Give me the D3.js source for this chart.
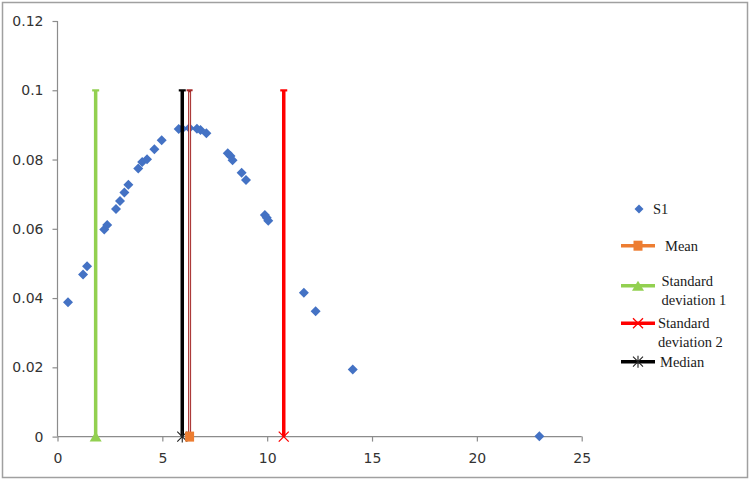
<!DOCTYPE html>
<html>
<head>
<meta charset="utf-8">
<script src="https://cdn.jsdelivr.net/npm/d3@7"></script>
<style>
  body { margin: 0; background: #fff; }
</style>
</head>
<body>
<div id="chart"></div>
<script>
// S1 points (x, density)
const s1X = [0.50, 1.22, 1.41, 2.23, 2.37, 2.79, 2.98, 3.19, 3.38, 3.85, 4.04, 4.27, 4.62, 4.97,
  5.78, 5.95, 6.29, 6.65, 6.82, 7.10, 8.12, 8.25, 8.35, 8.78, 8.99, 9.89, 9.98, 10.05,
  11.75, 12.31, 14.08, 22.98]
const s1Y = [0.0388, 0.0468, 0.0492, 0.0598, 0.0611, 0.0657, 0.0680, 0.0705, 0.0727, 0.0774, 0.0793, 0.0801, 0.0830, 0.0856,
  0.0888, 0.0889, 0.0891, 0.0889, 0.0885, 0.0876, 0.0818, 0.0810, 0.0798, 0.0762, 0.0741, 0.0640, 0.0632, 0.0623,
  0.0415, 0.0362, 0.0194, 0.0001]

// vertical reference lines, each from 0 to lineTop
const lineNames = ['Mean', 'Standard deviation 1', 'Standard deviation 2', 'Median']
const lineX = [6.30, 1.82, 10.79, 5.95]
const lineTop = 0.1

const xTicks = [0, 5, 10, 15, 20, 25]
const yTicks = [0, 0.02, 0.04, 0.06, 0.08, 0.1, 0.12]

const W = 750
const H = 481

const svg = d3.select('#chart')
  .append('svg')
  .attr('width', W)
  .attr('height', H)

// outer chart border
svg.append('rect')
  .attr('x', 2.5)
  .attr('y', 2.5)
  .attr('width', 745)
  .attr('height', 475)
  .attr('fill', 'white')
  .attr('stroke', '#a0a0a0')
  .attr('stroke-width', 1.5)

const x = d3.scaleLinear().domain([0, 25]).range([57.5, 581.7])
const y = d3.scaleLinear().domain([0, 0.12]).range([436.6, 21])

const yAxis = svg.append('g')
  .attr('transform', `translate(${x(0)},0)`)
  .call(d3.axisLeft(y).tickValues(yTicks).tickSize(5).tickSizeOuter(0).tickPadding(9)
    .tickFormat(d => d === 0 ? '0' : String(+d.toFixed(2))))
const xAxis = svg.append('g')
  .attr('transform', `translate(0,${y(0)})`)
  .call(d3.axisBottom(x).tickValues(xTicks).tickSize(5).tickSizeOuter(0).tickPadding(11))

svg.selectAll('.tick text')
  .attr('font-family', 'DejaVu Sans, sans-serif')
  .attr('font-size', 14)
  .attr('fill', '#333')
svg.selectAll('.domain').attr('stroke', '#8c8c8c').attr('stroke-width', 1.2)
svg.selectAll('.tick line').attr('stroke', '#8c8c8c').attr('stroke-width', 1.2)
yAxis.select('.domain').attr('d', `M0,${y(0.12)}V${y(0)}`)
xAxis.select('.domain').attr('d', `M${x(0)},0H${x(25)}`)

// S1 diamonds
const diamond = r => `M0,${-r}L${r},0L0,${r}L${-r},0Z`
svg.append('g')
  .selectAll('path')
  .data(s1X.map((v, i) => [v, s1Y[i]]))
  .enter()
  .append('path')
  .attr('d', diamond(5))
  .attr('transform', d => `translate(${x(d[0])},${y(d[1])})`)
  .attr('fill', '#4472c4')

const colors = ['#ed7d31', '#92d050', '#ff0000', '#000000']

// marker drawers
function marker (g, i, cx, cy) {
  if (i === 0) {
    g.append('rect').attr('x', cx - 4.5).attr('y', cy - 5).attr('width', 9).attr('height', 10)
      .attr('fill', colors[0])
  } else if (i === 1) {
    g.append('path').attr('d', `M${cx},${cy - 5}L${cx + 6},${cy + 5}L${cx - 6},${cy + 5}Z`)
      .attr('fill', colors[1])
  } else if (i === 2) {
    g.append('path').attr('d', `M${cx - 5},${cy - 5}L${cx + 5},${cy + 5}M${cx - 5},${cy + 5}L${cx + 5},${cy - 5}`)
      .attr('stroke', colors[2]).attr('stroke-width', 1.3).attr('fill', 'none')
  } else {
    g.append('path').attr('d', `M${cx - 5},${cy - 5}L${cx + 5},${cy + 5}M${cx - 5},${cy + 5}L${cx + 5},${cy - 5}M${cx},${cy - 6}V${cy + 6}`)
      .attr('stroke', '#222').attr('stroke-width', 1.1).attr('fill', 'none')
  }
}

// vertical lines
const lines = svg.append('g')
lineX.forEach((v, i) => {
  const g = lines.append('g')
  const px = x(v)
  if (i === 0) {
    g.append('line').attr('x1', px).attr('x2', px).attr('y1', y(0)).attr('y2', y(lineTop))
      .attr('stroke', '#a52a2a').attr('stroke-width', 3)
    g.append('line').attr('x1', px).attr('x2', px).attr('y1', y(0)).attr('y2', y(lineTop) + 2)
      .attr('stroke', '#f2d4cc').attr('stroke-width', 1)
    g.append('rect').attr('x', px - 3).attr('y', y(lineTop) - 1).attr('width', 6).attr('height', 2)
      .attr('fill', '#a52a2a')
  } else {
    g.append('line').attr('x1', px).attr('x2', px).attr('y1', y(0)).attr('y2', y(lineTop))
      .attr('stroke', colors[i]).attr('stroke-width', 3.5)
    g.append('rect').attr('x', px - 3.5).attr('y', y(lineTop) - 1).attr('width', 7).attr('height', 2.2)
      .attr('fill', colors[i])
  }
})
// bottom markers, median first so the mean square sits above it
;[3, 1, 2, 0].forEach(i => marker(lines, i, x(lineX[i]), y(0)))

// legend
const legend = svg.append('g')
  .attr('font-family', 'Liberation Serif, Times New Roman, serif')
  .attr('font-size', 14.5)
  .attr('fill', '#1a1a1a')
legend.append('path').attr('d', diamond(4.5)).attr('transform', 'translate(639,209)').attr('fill', '#4472c4')
legend.append('text').attr('x', 653).attr('y', 214).text('S1')

const legRows = [
  { y: 245.7, lines: [['Mean', 665, 251]] },
  { y: 285.7, lines: [['Standard', 661.5, 285.5], ['deviation 1', 661.5, 305]] },
  { y: 323.3, lines: [['Standard', 658, 328], ['deviation 2', 658, 347]] },
  { y: 361.7, lines: [['Median', 660, 366.5]] }
]
legRows.forEach((r, i) => {
  legend.append('line').attr('x1', 621).attr('x2', 655).attr('y1', r.y).attr('y2', r.y)
    .attr('stroke', colors[i]).attr('stroke-width', 3.5)
  marker(legend, i, 638, r.y)
  r.lines.forEach(t => {
    legend.append('text').attr('x', t[1]).attr('y', t[2]).text(t[0])
  })
})
</script>
</body>
</html>
